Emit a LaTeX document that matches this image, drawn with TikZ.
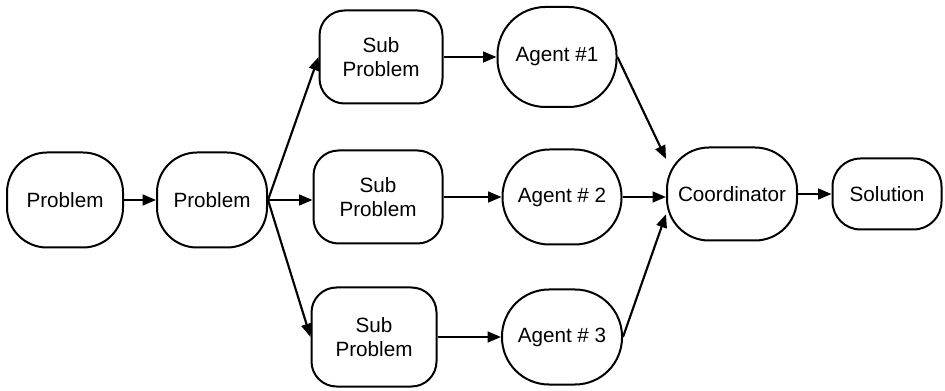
\documentclass[tikz,border=0pt]{standalone}
\usepackage{fontspec}
\setmainfont{Liberation Sans}
\usetikzlibrary{arrows.meta}
\tikzset{
  box/.style={draw, line width=1.5pt, align=center, inner sep=0pt,
    font=\fontsize{15.5}{18}\selectfont},
  conn/.style={line width=1.6pt, -{Triangle[length=10pt,width=8pt]}}
}
\begin{document}
\begin{tikzpicture}[x=0.75pt,y=-0.75pt]
\useasboundingbox (0,0) rectangle (945,391);
\node[box, rounded corners=40*0.75pt, minimum width=116*0.75pt, minimum height=95*0.75pt] (p1) at (65,200) {Problem};
\node[box, rounded corners=40*0.75pt, minimum width=110*0.75pt, minimum height=95*0.75pt] (p2) at (212,200) {Problem};
\node[box, rounded corners=25*0.75pt, minimum width=123*0.75pt, minimum height=93*0.75pt] (s1) at (381,57) {Sub\\Problem};
\node[box, rounded corners=25*0.75pt, minimum width=129*0.75pt, minimum height=93*0.75pt] (s2) at (378,197) {Sub\\Problem};
\node[box, rounded corners=25*0.75pt, minimum width=125*0.75pt, minimum height=99*0.75pt] (s3) at (374,337) {Sub\\Problem};
\node[box, rounded corners=48*0.75pt, minimum width=119*0.75pt, minimum height=100*0.75pt] (a1) at (557,57) {Agent \#1};
\node[box, rounded corners=47*0.75pt, minimum width=119*0.75pt, minimum height=95*0.75pt] (a2) at (562,197) {Agent \# 2};
\node[box, rounded corners=47*0.75pt, minimum width=120*0.75pt, minimum height=95*0.75pt] (a3) at (562,337) {Agent \# 3};
\node[box, rounded corners=42*0.75pt, minimum width=130*0.75pt, minimum height=93*0.75pt] (c) at (732,194) {Coordinator};
\node[box, rounded corners=28*0.75pt, minimum width=109*0.75pt, minimum height=71*0.75pt] (sol) at (887,194) {Solution};
\draw[conn] (p1.east) -- (p2.west);
\draw[conn] (p2.east) -- (s1.west);
\draw[conn] (p2.east) -- (p2.east -| s2.west);
\draw[conn] (p2.east) -- (s3.west);
\draw[conn] (s1.east) -- (a1.west);
\draw[conn] (s2.east) -- (a2.west);
\draw[conn] (s3.east) -- (a3.west);
\draw[conn] (a1.east) -- (c.152);
\draw[conn] (a2.east) -- (a2.east -| c.west);
\draw[conn] (a3.east) -- (c.197);
\draw[conn] (c.east) -- (sol.west);
\end{tikzpicture}
\end{document}
